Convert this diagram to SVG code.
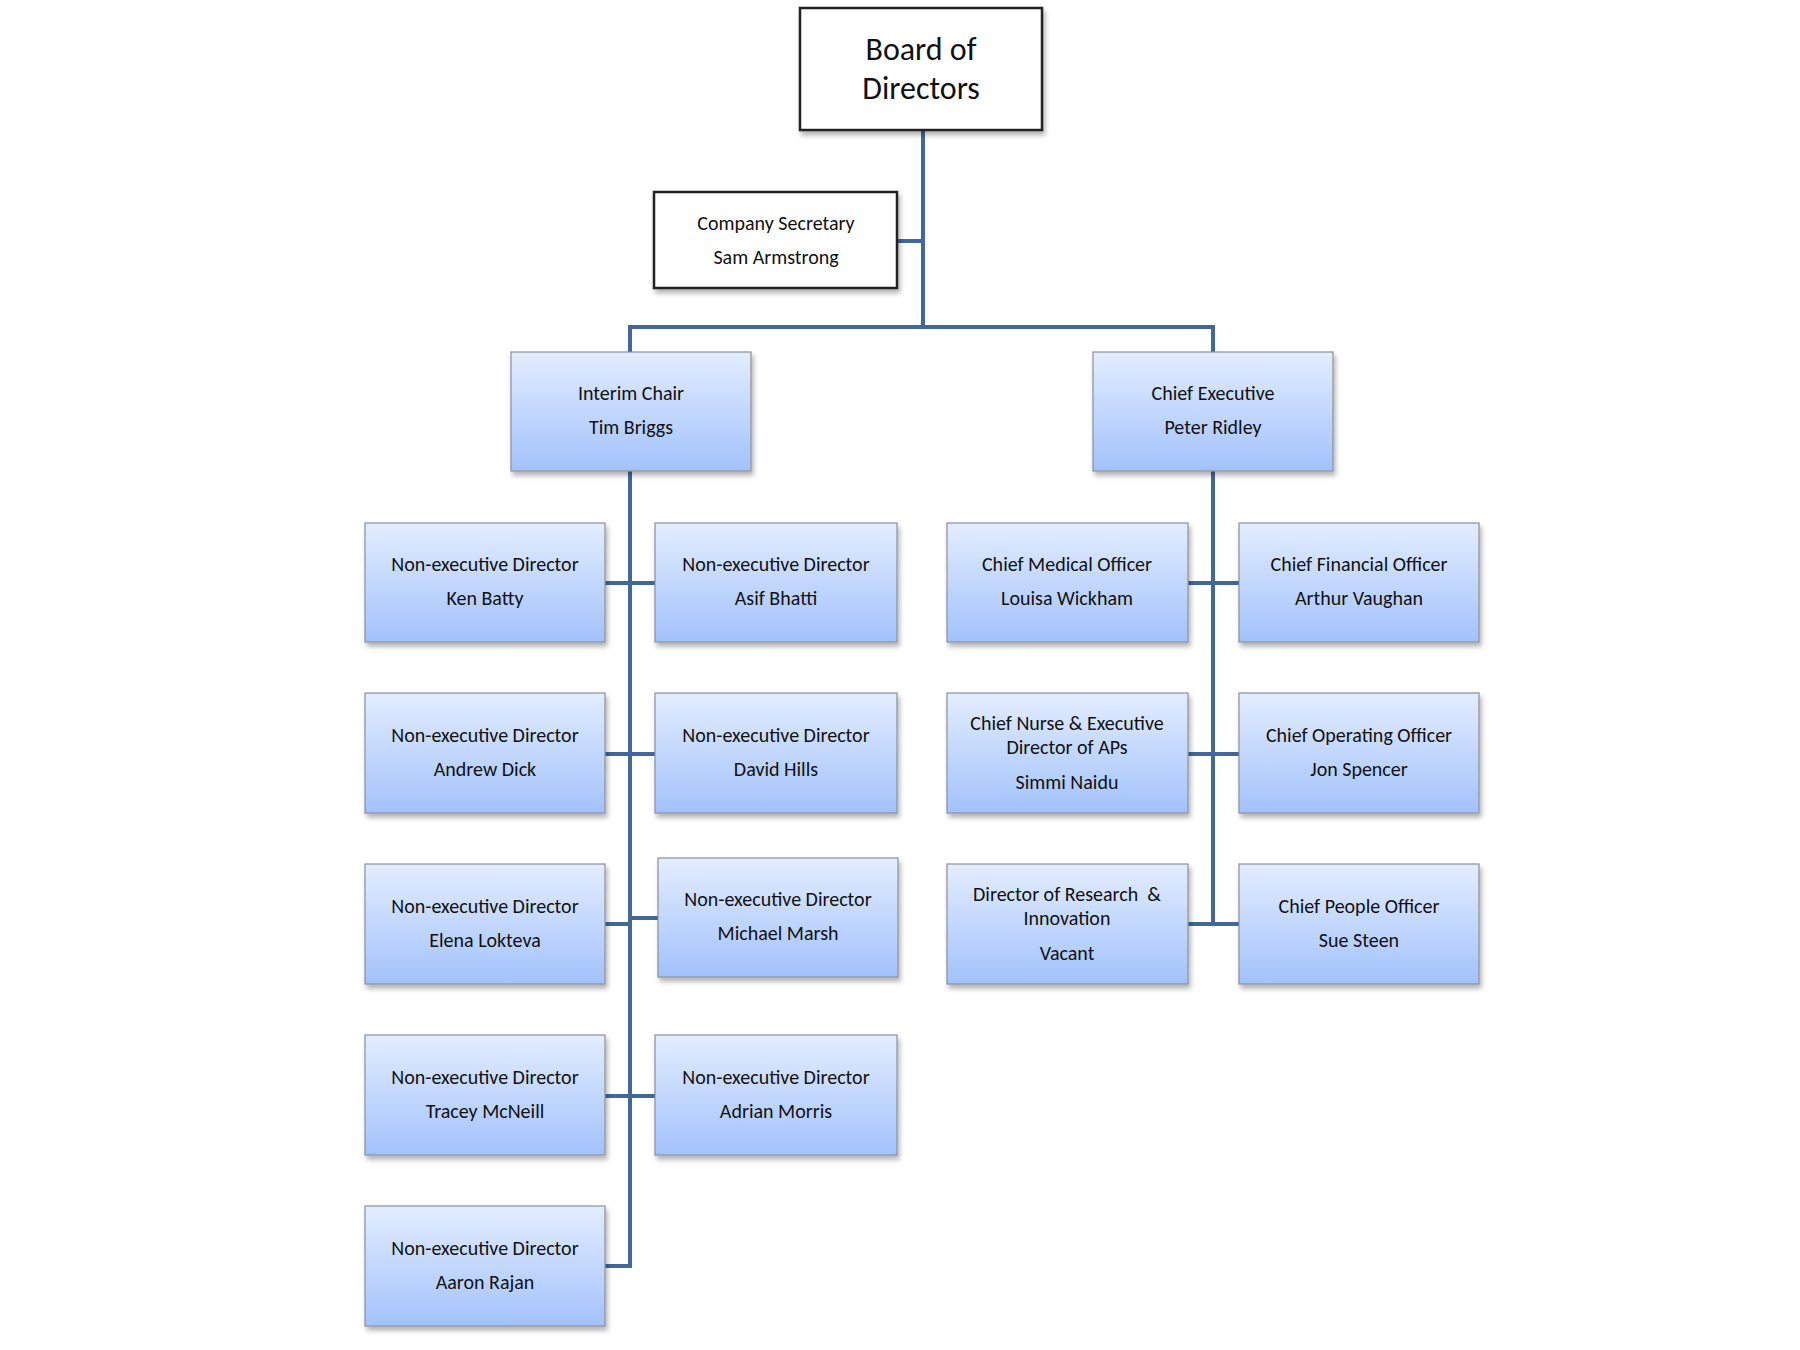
<svg xmlns="http://www.w3.org/2000/svg" width="1800" height="1350" viewBox="0 0 1800 1350">
<defs>
<linearGradient id="g" x1="0" y1="0" x2="0" y2="1"><stop offset="0" stop-color="#e3edff"/><stop offset="1" stop-color="#a2c2fc"/></linearGradient>
<filter id="sh" x="-10%" y="-10%" width="130%" height="130%"><feDropShadow dx="2" dy="4" stdDeviation="2.5" flood-color="#000" flood-opacity="0.3"/></filter>
</defs>
<style>
.b{fill:url(#g);stroke:#8a8f99;stroke-width:1.2;filter:url(#sh)}
.w{fill:#fff;stroke:#222;stroke-width:2.5;filter:url(#sh)}
text{font-family:Carlito,"Liberation Sans",Arial,sans-serif;font-size:20px;fill:#111;text-anchor:middle}
.t{font-size:32px}
.c{fill:none;stroke:#41689c;stroke-width:4}
</style>
<g id="connectors">
<path class="c" d="M923 130V327M897 241H923M630 352V327H1213V352"/>
<path class="c" d="M630 471V1266H605M605 583H655M605 754H655M605 924H630M630 918H658M605 1096H655"/>
<path class="c" d="M1213 471V924H1188M1188 583H1239M1188 754H1239M1213 924H1239"/>
</g>
<g id="board"><rect class="w" x="800" y="8" width="242" height="122"/><text class="t" x="921" y="60">Board of</text><text class="t" x="921" y="99">Directors</text></g>
<g id="secretary"><rect class="w" x="654" y="192" width="243" height="96"/><text x="776" y="230">Company Secretary</text><text x="776" y="264">Sam Armstrong</text></g>
<g id="chair"><rect class="b" x="511" y="352" width="240" height="119"/><text x="631" y="400">Interim Chair</text><text x="631" y="434">Tim Briggs</text></g>
<g id="ceo"><rect class="b" x="1093" y="352" width="240" height="119"/><text x="1213" y="400">Chief Executive</text><text x="1213" y="434">Peter Ridley</text></g>
<g id="batty"><rect class="b" x="365" y="523" width="240" height="119"/><text x="485" y="571">Non-executive Director</text><text x="485" y="605">Ken Batty</text></g>
<g id="bhatti"><rect class="b" x="655" y="523" width="242" height="119"/><text x="776" y="571">Non-executive Director</text><text x="776" y="605">Asif Bhatti</text></g>
<g id="dick"><rect class="b" x="365" y="693" width="240" height="120"/><text x="485" y="742">Non-executive Director</text><text x="485" y="776">Andrew Dick</text></g>
<g id="hills"><rect class="b" x="655" y="693" width="242" height="120"/><text x="776" y="742">Non-executive Director</text><text x="776" y="776">David Hills</text></g>
<g id="lokteva"><rect class="b" x="365" y="864" width="240" height="120"/><text x="485" y="913">Non-executive Director</text><text x="485" y="947">Elena Lokteva</text></g>
<g id="marsh"><rect class="b" x="658" y="858" width="240" height="119"/><text x="778" y="906">Non-executive Director</text><text x="778" y="940">Michael Marsh</text></g>
<g id="mcneill"><rect class="b" x="365" y="1035" width="240" height="120"/><text x="485" y="1084">Non-executive Director</text><text x="485" y="1118">Tracey McNeill</text></g>
<g id="morris"><rect class="b" x="655" y="1035" width="242" height="120"/><text x="776" y="1084">Non-executive Director</text><text x="776" y="1118">Adrian Morris</text></g>
<g id="rajan"><rect class="b" x="365" y="1206" width="240" height="120"/><text x="485" y="1255">Non-executive Director</text><text x="485" y="1289">Aaron Rajan</text></g>
<g id="cmo"><rect class="b" x="947" y="523" width="241" height="119"/><text x="1067" y="571">Chief Medical Officer</text><text x="1067" y="605">Louisa Wickham</text></g>
<g id="cfo"><rect class="b" x="1239" y="523" width="240" height="119"/><text x="1359" y="571">Chief Financial Officer</text><text x="1359" y="605">Arthur Vaughan</text></g>
<g id="nurse"><rect class="b" x="947" y="693" width="241" height="120"/><text x="1067" y="730">Chief Nurse &amp; Executive</text><text x="1067" y="754">Director of APs</text><text x="1067" y="789">Simmi Naidu</text></g>
<g id="coo"><rect class="b" x="1239" y="693" width="240" height="120"/><text x="1359" y="742">Chief Operating Officer</text><text x="1359" y="776">Jon Spencer</text></g>
<g id="research"><rect class="b" x="947" y="864" width="241" height="120"/><text x="1067" y="901" xml:space="preserve">Director of Research  &amp;</text><text x="1067" y="925">Innovation</text><text x="1067" y="960">Vacant</text></g>
<g id="cpo"><rect class="b" x="1239" y="864" width="240" height="120"/><text x="1359" y="913">Chief People Officer</text><text x="1359" y="947">Sue Steen</text></g>
</svg>
